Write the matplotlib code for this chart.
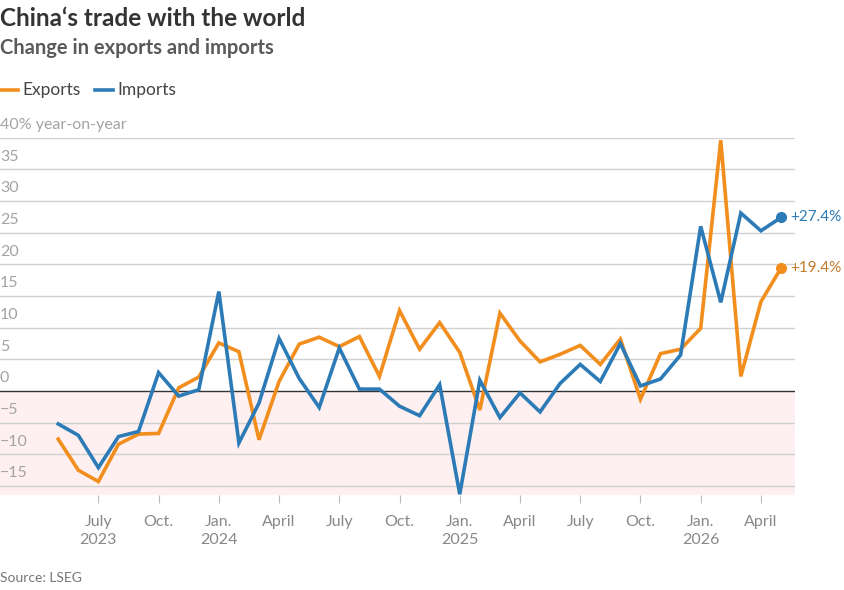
import matplotlib
matplotlib.use("Agg")
import matplotlib.pyplot as plt
import numpy as np

# Monthly data, May 2023 .. May 2026 (year-on-year % change)
months = ["2023-05","2023-06","2023-07","2023-08","2023-09","2023-10","2023-11","2023-12",
          "2024-01","2024-02","2024-03","2024-04","2024-05","2024-06","2024-07","2024-08",
          "2024-09","2024-10","2024-11","2024-12","2025-01","2025-02","2025-03","2025-04",
          "2025-05","2025-06","2025-07","2025-08","2025-09","2025-10","2025-11","2025-12",
          "2026-01","2026-02","2026-03","2026-04","2026-05"]
exports = [-7.6, -12.5, -14.3, -8.4, -6.8, -6.7, 0.5, 2.2,
           7.6, 6.2, -7.7, 1.5, 7.4, 8.5, 7.0, 8.6,
           2.3, 12.7, 6.6, 10.8, 6.1, -3.0, 12.3, 7.9,
           4.6, 5.8, 7.2, 4.2, 8.2, -1.3, 5.9, 6.6,
           9.9, 39.6, 2.3, 14.1, 19.4]
imports = [-5.2, -7.0, -12.1, -7.2, -6.4, 2.9, -0.8, 0.2,
           15.7, -8.2, -1.9, 8.3, 2.0, -2.6, 6.8, 0.3,
           0.3, -2.4, -3.9, 1.0, -16.3, 1.7, -4.2, -0.3,
           -3.3, 1.2, 4.2, 1.5, 7.5, 0.8, 1.9, 5.7,
           26.0, 14.0, 28.1, 25.3, 27.4]
tick_months = ["2023-07","2023-10","2024-01","2024-04","2024-07","2024-10","2025-01",
               "2025-04","2025-07","2025-10","2026-01","2026-04"]
tick_labels = ["July\n2023","Oct.","Jan.\n2024","April","July","Oct.","Jan.\n2025",
               "April","July","Oct.","Jan.\n2026","April"]
y_ticks = [-15, -10, -5, 0, 5, 10, 15, 20, 25, 30, 35, 40]

ORANGE = "#F28E1E"
BLUE = "#2C7BB6"
GRID = "#D0D0D0"
LABEL = "#A3A3A3"

plt.rcParams['font.family'] = ['Lato', 'DejaVu Sans']

x = np.arange(len(months))
tick_x = [months.index(m) for m in tick_months]

fig = plt.figure(figsize=(8.44, 5.90), dpi=100)
ax = fig.add_axes([0.0, 0.1602, 0.942, 0.6064])
ax.set_xlim(-2.9, 36.7)
ax.set_ylim(-16.5, 40)

# negative shading
ax.axhspan(-16.5, 0, color="#FEF0F0", zorder=0, lw=0)

for yv in y_ticks:
    if yv == 0:
        ax.axhline(0, color="#333333", lw=1.0, zorder=1)
    else:
        ax.axhline(yv, color=GRID, lw=1.0, zorder=1)
    if yv == 40:
        lab = "40% year-on-year"
    elif yv < 0:
        lab = "\u2212" + str(abs(yv))
    else:
        lab = str(yv)
    ax.text(0.0, yv + 0.9, lab, transform=ax.get_yaxis_transform(), ha="left", va="bottom",
            fontsize=11.5, color=LABEL, zorder=2)

ax.plot(x, exports, color=ORANGE, lw=2.6, zorder=3, solid_joinstyle="miter")
ax.plot(x, imports, color=BLUE, lw=2.6, zorder=4, solid_joinstyle="miter")
ax.plot(x[-1], exports[-1], "o", color=ORANGE, ms=7, zorder=5)
ax.plot(x[-1], imports[-1], "o", color=BLUE, ms=7, zorder=5)
ax.annotate(f"+{exports[-1]:.1f}%", (x[-1], exports[-1]), xytext=(7, 0), textcoords="offset points",
            va="center", ha="left", fontsize=11, color="#C27A2C", annotation_clip=False)
ax.annotate(f"+{imports[-1]:.1f}%", (x[-1], imports[-1]), xytext=(7, 0), textcoords="offset points",
            va="center", ha="left", fontsize=11, color=BLUE, annotation_clip=False)

for s in ax.spines.values():
    s.set_visible(False)
ax.set_yticks([])
ax.set_xticks(tick_x)
ax.set_xticklabels(tick_labels, fontsize=11.5, color="#888888", linespacing=1.4)
ax.tick_params(axis="x", length=6, width=0.8, color="#BBBBBB", pad=8)

# Titles
fig.text(0.0, 0.968, "China\u2018s trade with the world", fontsize=17.5, fontweight="bold",
         color="#333333", ha="left", va="center")
fig.text(0.0, 0.918, "Change in exports and imports", fontsize=14.5, fontweight="bold",
         color="#5A5A5A", ha="left", va="center")

# Legend
ly = 1 - 90 / 590
fig.add_artist(plt.Line2D([0.0, 0.021], [ly, ly], color=ORANGE, lw=2.6))
fig.text(0.027, ly, "Exports", fontsize=12.5, color="#444444", va="center", ha="left")
fig.add_artist(plt.Line2D([0.113, 0.134], [ly, ly], color=BLUE, lw=2.6))
fig.text(0.139, ly, "Imports", fontsize=12.5, color="#444444", va="center", ha="left")

fig.text(0.0, 1 - 578 / 590, "Source: LSEG", fontsize=10, color="#777777", va="center", ha="left")

fig.savefig("out.png", dpi=100)
